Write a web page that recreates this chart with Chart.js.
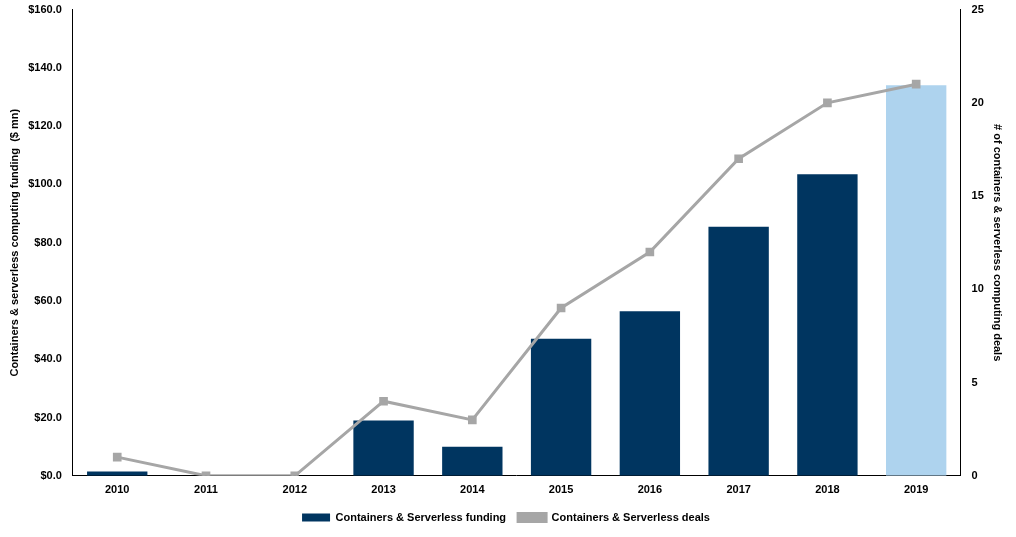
<html>
<head>
<script src="https://cdn.jsdelivr.net/npm/chart.js@4.4.0/dist/chart.umd.min.js"></script>
<style>
  body { margin: 0; background: #fff; }
  .wrap { width: 1016px; height: 537px; }
</style>
</head>
<body>
<div class="wrap"><canvas id="c"></canvas></div>
<script>
  const years = ["2010","2011","2012","2013","2014","2015","2016","2017","2018","2019"];
  const funding = [1.5, 0, 0, 19, 10, 47, 56.5, 85.5, 103.5, 134];
  const deals = [1, 0, 0, 4, 3, 9, 12, 17, 20, 21];
  const barColors = ["#003560","#003560","#003560","#003560","#003560","#003560","#003560","#003560","#003560","#AED3EE"];

  const font = { family: "'Liberation Sans', Arial, sans-serif", size: 11, weight: "bold" };

  new Chart(document.getElementById("c"), {
    data: {
      labels: years,
      datasets: [
        {
          type: "line",
          label: "Containers & Serverless deals",
          data: deals,
          yAxisID: "y2",
          borderColor: "#A6A6A6",
          backgroundColor: "#A6A6A6",
          borderWidth: 3,
          pointStyle: "rect",
          pointRadius: 4,
          tension: 0,
          order: 0
        },
        {
          type: "bar",
          label: "Containers & Serverless funding",
          data: funding,
          yAxisID: "y",
          backgroundColor: barColors,
          categoryPercentage: 0.68,
          barPercentage: 1,
          order: 1
        }
      ]
    },
    options: {
      responsive: true,
      maintainAspectRatio: false,
      animation: false,
      layout: { padding: { left: 4, right: 8, top: 8, bottom: 4 } },
      plugins: {
        legend: {
          position: "bottom",
          reverse: true,
          labels: { font: font, color: "#000", boxWidth: 28, boxHeight: 8, padding: 12 }
        },
        tooltip: { enabled: false }
      },
      scales: {
        x: {
          grid: { display: false, drawTicks: true, tickLength: 5, color: "#000" },
          border: { color: "#000" },
          ticks: { font: font, color: "#000" }
        },
        y: {
          position: "left",
          min: 0, max: 160,
          grid: { display: false },
          border: { color: "#000" },
          ticks: { stepSize: 20, font: font, color: "#000",
            callback: v => "$" + v.toFixed(1) },
          title: { display: true, text: "Containers & serverless computing funding  ($ mn)", font: font, color: "#000" }
        },
        y2: {
          position: "right",
          min: 0, max: 25,
          grid: { display: false },
          border: { color: "#000" },
          ticks: { stepSize: 5, font: font, color: "#000" },
          title: { display: true, text: "# of containers & serverless computing deals", font: font, color: "#000" }
        }
      }
    }
  });
</script>
</body>
</html>
